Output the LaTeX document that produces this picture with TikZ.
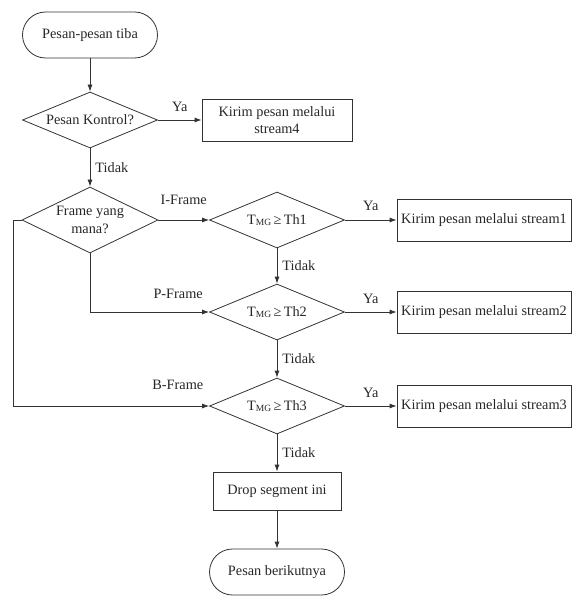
\documentclass[tikz,border=0pt]{standalone}
\usepackage{fontspec}
\setmainfont{Liberation Serif}
\usetikzlibrary{shapes.geometric,arrows.meta}

\tikzset{
  base/.style={draw=black!80, line width=0.8pt, text=black!85,
    font=\fontsize{14.3}{17.5}\selectfont, inner sep=0pt, align=center},
  terminal/.style={base, rectangle, rounded corners=23pt,
    minimum width=135pt, minimum height=46pt},
  decision/.style={base, diamond, aspect=2.4,
    minimum width=135pt, minimum height=56pt},
  process/.style={base, rectangle, minimum height=42pt},
  flow/.style={draw=black!80, line width=0.8pt, -{Latex[length=7pt,width=5pt]}},
  lbl/.style={text=black!85, font=\fontsize{14.3}{17.5}\selectfont, inner sep=2pt},
}
\newcommand{\tmg}[1]{T\raisebox{-1.2pt}{\fontsize{9.5}{9.5}\selectfont MG}\,≥\,Th#1}

\begin{document}
\begin{tikzpicture}[x=1pt,y=-1pt]
      \useasboundingbox (0,0) rectangle (572,596);
      \node [terminal] (t1) at (90,35) {Pesan-pesan tiba};
      \node [decision] (d1) at (90,120) {Pesan Kontrol?};
      \node [process, minimum width=150pt] (b4) at (277,120) {Kirim pesan melalui\\stream4};
      \node [decision, aspect=2, minimum width=136pt, minimum height=66pt] (d2) at (90,220) {Frame yang\\mana?};
      \node [decision] (d3) at (277,220) {\tmg{1}};
      \node [process, minimum width=174pt] (b1) at (484,220) {Kirim pesan melalui stream1};
      \node [decision] (d4) at (277,312) {\tmg{2}};
      \node [process, minimum width=174pt] (b2) at (484,312) {Kirim pesan melalui stream2};
      \node [decision] (d5) at (277,406) {\tmg{3}};
      \node [process, minimum width=174pt] (b3) at (484,406) {Kirim pesan melalui stream3};
      \node [process, minimum width=128pt, minimum height=38pt] (drop) at (277,491) {Drop segment ini};
      \node [terminal] (t2) at (277,572) {Pesan berikutnya};

      \draw [flow] (t1) -- (d1);
      \draw [flow] (d1) -- node [lbl, above=6pt] {Ya} (b4);
      \draw [flow] (d1) -- node [lbl, right=3pt] {Tidak} (d2);
      \draw [flow] (d2) -- node [lbl, above=13pt] {I-Frame} (d3);
      \draw [flow] (d2.south) |- node [lbl, pos=0.87, above=11pt] {P-Frame} (d4);
      \draw [flow] (d2.west) -- ++(-8,0) |- node [lbl, pos=0.92, above=14pt] {B-Frame} (d5);
      \draw [flow] (d3) -- node [lbl, above=7pt] {Ya} (b1);
      \draw [flow] (d3) -- node [lbl, right=3pt] {Tidak} (d4);
      \draw [flow] (d4) -- node [lbl, above=6pt] {Ya} (b2);
      \draw [flow] (d4) -- node [lbl, right=3pt] {Tidak} (d5);
      \draw [flow] (d5) -- node [lbl, above=6pt] {Ya} (b3);
      \draw [flow] (d5) -- node [lbl, right=3pt] {Tidak} (drop);
      \draw [flow] (drop) -- (t2);
\end{tikzpicture}
\end{document}
